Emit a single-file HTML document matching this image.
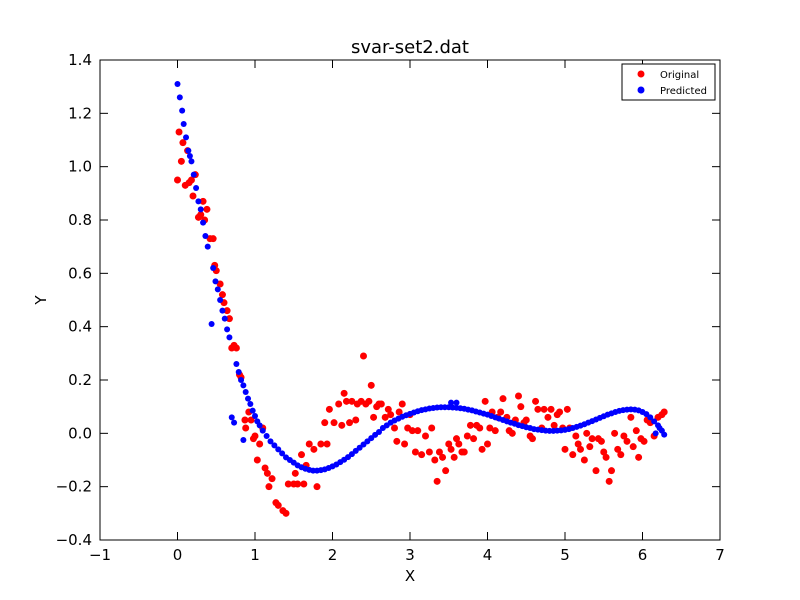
<!DOCTYPE html>
<html><head><meta charset="utf-8"><style>
body{margin:0;background:#fff;}
svg{display:block;font-family:"DejaVu Sans","Liberation Sans",sans-serif;}
</style></head><body>
<svg id="chart" width="800" height="600" xmlns="http://www.w3.org/2000/svg">
<rect width="800" height="600" fill="#fff"/>
<text x="410" y="53" text-anchor="middle" font-size="18">svar-set2.dat</text>
<text x="410" y="581" text-anchor="middle" font-size="15">X</text>
<text x="46" y="300" text-anchor="middle" font-size="15" transform="rotate(-90 46 300)">Y</text>
<g id="ticks"></g>
<g id="marks"></g>
<rect x="100" y="60" width="620" height="480" fill="none" stroke="#000" stroke-width="1"/>
<g>
<rect x="622" y="64" width="93" height="36" fill="#fff" stroke="#000" stroke-width="1"/>
<circle cx="641" cy="74" r="3.5" fill="#f00"/>
<text x="660" y="78" font-size="10">Original</text>
<circle cx="641" cy="90" r="3.5" fill="#00f"/>
<text x="660" y="94" font-size="10">Predicted</text>
</g>
</svg>
<script>
const xTicks=[-1,0,1,2,3,4,5,6,7];
const yTicks=[-0.4,-0.2,0.0,0.2,0.4,0.6,0.8,1.0,1.2,1.4];
const yTickLabels=["−0.4","−0.2","0.0","0.2","0.4","0.6","0.8","1.0","1.2","1.4"];
const origX=[0.0,0.02,0.05,0.07,0.1,0.13,0.15,0.18,0.2,0.23,0.27,0.3,0.33,0.35,0.38,0.42,0.46,0.48,0.5,0.55,0.58,0.6,0.64,0.67,0.7,0.73,0.76,0.8,0.82,0.87,0.88,0.92,0.95,0.98,1.0,1.03,1.06,1.1,1.13,1.16,1.18,1.22,1.27,1.3,1.36,1.4,1.43,1.5,1.52,1.55,1.6,1.63,1.66,1.7,1.76,1.8,1.85,1.9,1.93,1.96,2.02,2.08,2.12,2.15,2.18,2.22,2.25,2.3,2.32,2.37,2.4,2.43,2.47,2.5,2.53,2.57,2.6,2.63,2.68,2.72,2.75,2.8,2.83,2.86,2.9,2.93,2.97,3.0,3.03,3.07,3.1,3.15,3.2,3.25,3.28,3.32,3.35,3.38,3.42,3.46,3.5,3.53,3.57,3.6,3.63,3.67,3.7,3.74,3.78,3.82,3.86,3.9,3.93,3.97,4.0,4.03,4.06,4.1,4.13,4.17,4.2,4.25,4.28,4.32,4.36,4.4,4.43,4.47,4.5,4.55,4.58,4.62,4.65,4.7,4.73,4.78,4.82,4.86,4.9,4.93,4.97,5.0,5.03,5.06,5.1,5.14,5.17,5.2,5.25,5.28,5.32,5.35,5.4,5.43,5.47,5.5,5.53,5.57,5.6,5.64,5.68,5.72,5.76,5.8,5.85,5.88,5.92,5.95,5.98,6.02,6.06,6.1,6.15,6.2,6.25,6.28];
const origY=[0.95,1.13,1.02,1.09,0.93,1.06,0.94,0.95,0.89,0.97,0.81,0.82,0.87,0.80,0.84,0.73,0.73,0.63,0.61,0.56,0.52,0.49,0.46,0.43,0.32,0.33,0.32,0.22,0.21,0.05,0.02,0.08,0.05,-0.02,-0.01,-0.1,-0.04,0.02,-0.13,-0.15,-0.2,-0.17,-0.26,-0.27,-0.29,-0.3,-0.19,-0.19,-0.15,-0.19,-0.08,-0.19,-0.12,-0.04,-0.06,-0.2,-0.04,0.04,-0.04,0.09,0.04,0.11,0.03,0.15,0.12,0.04,0.12,0.05,0.11,0.12,0.29,0.11,0.12,0.18,0.06,0.1,0.11,0.11,0.06,0.09,0.07,0.02,-0.03,0.08,0.11,-0.04,0.02,0.07,0.01,-0.07,0.01,-0.08,-0.01,-0.07,0.02,-0.1,-0.18,-0.07,-0.09,-0.14,-0.04,-0.06,-0.09,-0.02,-0.04,-0.07,-0.07,-0.01,0.03,-0.02,0.03,0.02,-0.06,0.12,-0.04,0.02,0.08,0.01,0.06,0.08,0.13,0.06,0.01,0.0,0.05,0.14,0.1,0.04,0.05,-0.01,-0.02,0.12,0.09,0.02,0.09,0.06,0.09,0.03,0.07,0.08,0.02,-0.06,0.09,0.02,-0.08,-0.01,-0.04,-0.06,-0.1,0.0,-0.05,-0.02,-0.14,-0.02,-0.03,-0.07,-0.09,-0.18,-0.14,0.0,-0.06,-0.08,-0.01,-0.03,0.06,-0.05,0.01,-0.09,-0.02,-0.03,0.05,0.04,-0.01,0.06,0.07,0.08];
const predX=[0.0,0.03,0.06,0.08,0.11,0.14,0.16,0.18,0.21,0.24,0.27,0.3,0.33,0.36,0.39,0.44,0.46,0.49,0.52,0.55,0.58,0.61,0.64,0.67,0.7,0.73,0.76,0.79,0.82,0.85,0.85,0.88,0.91,0.94,0.97,1.0,1.03,1.06,1.1,1.15,1.2,1.25,1.3,1.35,1.4,1.45,1.5,1.55,1.6,1.65,1.7,1.75,1.8,1.85,1.9,1.95,2.0,2.05,2.1,2.15,2.2,2.25,2.3,2.35,2.4,2.45,2.5,2.55,2.6,2.65,2.7,2.75,2.8,2.85,2.9,2.95,3.0,3.05,3.1,3.15,3.2,3.25,3.3,3.35,3.4,3.45,3.5,3.53,3.55,3.6,3.6,3.65,3.7,3.75,3.8,3.85,3.9,3.95,4.0,4.05,4.1,4.15,4.2,4.25,4.3,4.35,4.4,4.45,4.5,4.55,4.6,4.65,4.7,4.75,4.8,4.85,4.9,4.95,5.0,5.05,5.1,5.15,5.2,5.25,5.3,5.35,5.4,5.45,5.5,5.55,5.6,5.65,5.7,5.75,5.8,5.85,5.9,5.95,6.0,6.05,6.1,6.15,6.17,6.2,6.22,6.25,6.28];
const predY=[1.31,1.26,1.21,1.16,1.11,1.06,1.04,1.02,0.97,0.92,0.87,0.84,0.79,0.74,0.70,0.41,0.62,0.57,0.54,0.50,0.46,0.43,0.39,0.36,0.06,0.04,0.26,0.23,0.20,-0.025,0.18,0.155,0.13,0.11,0.085,0.065,0.045,0.03,0.01,-0.01,-0.03,-0.045,-0.06,-0.075,-0.09,-0.10,-0.11,-0.12,-0.127,-0.133,-0.137,-0.14,-0.14,-0.138,-0.135,-0.13,-0.124,-0.117,-0.108,-0.099,-0.089,-0.078,-0.066,-0.054,-0.042,-0.03,-0.018,-0.006,0.005,0.02,0.03,0.04,0.048,0.055,0.062,0.068,0.073,0.078,0.083,0.087,0.09,0.093,0.095,0.097,0.098,0.098,0.098,0.115,0.097,0.115,0.096,0.094,0.092,0.089,0.086,0.082,0.078,0.074,0.07,0.065,0.06,0.055,0.05,0.045,0.04,0.036,0.031,0.027,0.023,0.02,0.016,0.014,0.012,0.01,0.009,0.009,0.01,0.011,0.013,0.016,0.02,0.024,0.029,0.034,0.04,0.046,0.052,0.058,0.064,0.07,0.075,0.08,0.084,0.087,0.089,0.09,0.089,0.086,0.08,0.072,0.06,0.045,0.0,0.03,0.02,0.01,-0.005];
const NS="http://www.w3.org/2000/svg";
const X0=100,X1=720,Y0=540,Y1=60;
function sx(v){return X0+(v+1)/8*(X1-X0);}
function sy(v){return Y0-(v+0.4)/1.8*(Y0-Y1);}
const tg=document.getElementById('ticks');
function el(t,a,p){const e=document.createElementNS(NS,t);for(const k in a)e.setAttribute(k,a[k]);p.appendChild(e);return e;}
xTicks.forEach(v=>{
  const x=sx(v);
  const l1=el('line',{x1:x,x2:x,y1:Y0,y2:Y0-8,stroke:'#000'},tg);
  
  
  const l2=el('line',{x1:x,x2:x,y1:Y1,y2:Y1+8,stroke:'#000'},tg);
  
  
  const t=el('text',{x:x,y:Y0+20,'text-anchor':'middle','font-size':15},tg);
  t.textContent=v<0?'−'+Math.abs(v):String(v);
  
  
});
yTicks.forEach((v,i)=>{
  const y=sy(v);
  const l1=el('line',{x1:X0,x2:X0+8,y1:y,y2:y,stroke:'#000'},tg);
  
  
  const l2=el('line',{x1:X1,x2:X1-8,y1:y,y2:y,stroke:'#000'},tg);
  
  
  const t=el('text',{x:X0-8,y:y+5,'text-anchor':'end','font-size':15},tg);
  t.textContent=yTickLabels[i];
  
  
});
const mg=document.getElementById('marks');
origX.forEach((v,i)=>{
  const c=el('circle',{cx:sx(v),cy:sy(origY[i]),r:3.5,fill:'#f00'},mg);
  
  
});
predX.forEach((v,i)=>{
  const c=el('circle',{cx:sx(v),cy:sy(predY[i]),r:3,fill:'#00f'},mg);
  
  
});
</script>
</body></html>
